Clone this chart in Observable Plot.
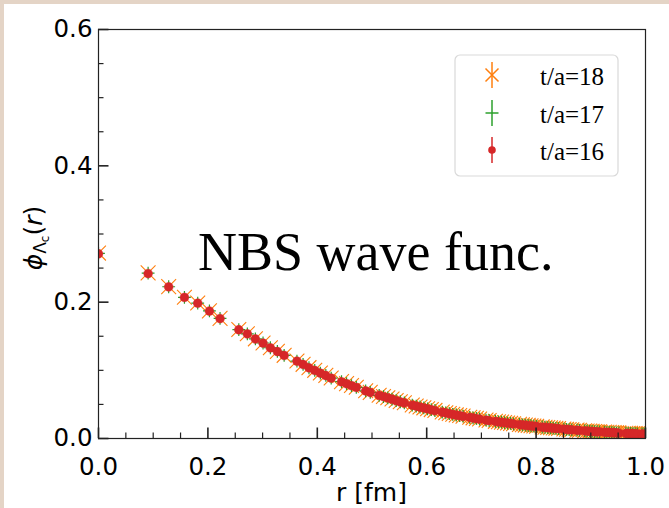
<!DOCTYPE html>
<html><head><meta charset="utf-8">
<script src="https://cdn.jsdelivr.net/npm/d3@7"></script>
<script src="https://cdn.jsdelivr.net/npm/@observablehq/plot@0.6"></script>
<style>
html,body{margin:0;padding:0;background:#e4d4c6;overflow:hidden;}
#chart{position:absolute;left:4px;top:4px;width:665px;height:504px;background:#fff;}
svg{display:block}
</style></head><body><div id="chart"></div>
<script>
// r [fm]
const r = [0,0.0907,0.1283,0.1571,0.1814,0.2028,0.2222,0.2565,0.2721,0.2868,0.3008,0.3142,0.3270,0.3394,0.3628,0.3740,0.3848,0.3953,0.4056,0.4156,0.4254,0.4443,0.4535,0.4625,0.4713,0.4884,0.4968,0.5131,0.5210,0.5289,0.5366,0.5442,0.5517,0.5591,0.5736,0.5808,0.5878,0.5948,0.6016,0.6084,0.6151,0.6284,0.6349,0.6413,0.6477,0.6540,0.6603,0.6665,0.6787,0.6848,0.6908,0.6967,0.7084,0.7142,0.7256,0.7312,0.7368,0.7424,0.7479,0.7534,0.7588,0.7696,0.7749,0.7802,0.7855,0.7907,0.7959,0.8010,0.8112,0.8163,0.8213,0.8263,0.8313,0.8362,0.8411,0.8508,0.8557,0.8604,0.8652,0.8747,0.8794,0.8887,0.8933,0.8979,0.9024,0.9070,0.9115,0.9160,0.9250,0.9294,0.9338,0.9382,0.9426,0.9469,0.9513,0.9641,0.9684,0.9726,0.9769,0.9811,0.9852,0.9936,0.9977,1.0018,1.0059,1.0141,1.0181];
const phi18 = [0.272,0.243,0.2228,0.2072,0.1988,0.1872,0.1762,0.1598,0.1537,0.1462,0.1402,0.1332,0.1278,0.1220,0.1136,0.1088,0.1039,0.1000,0.0960,0.0926,0.0887,0.0834,0.0805,0.0777,0.0752,0.0700,0.0677,0.0635,0.0616,0.0598,0.0580,0.0557,0.0540,0.0524,0.0492,0.0477,0.0463,0.0450,0.0437,0.0424,0.0412,0.0388,0.0377,0.0366,0.0356,0.0346,0.0337,0.0328,0.0311,0.0303,0.0295,0.0287,0.0272,0.0265,0.0252,0.0246,0.0240,0.0234,0.0228,0.0222,0.0217,0.0207,0.0202,0.0197,0.0192,0.0188,0.0183,0.0179,0.0170,0.0166,0.0162,0.0158,0.0154,0.0150,0.0146,0.0139,0.0135,0.0132,0.0129,0.0123,0.0120,0.0114,0.0111,0.0108,0.0105,0.0103,0.0100,0.0098,0.0094,0.0092,0.0090,0.0088,0.0086,0.0084,0.0082,0.0078,0.0076,0.0075,0.0073,0.0072,0.0070,0.0068,0.0067,0.0066,0.0065,0.0063,0.0062];
const phi17 = [0.2715,0.2425,0.2226,0.2071,0.1986,0.1871,0.1761,0.1596,0.1536,0.1461,0.1401,0.1331,0.1277,0.1219,0.1135,0.1087,0.1038,0.0999,0.0959,0.0925,0.0886,0.0833,0.0804,0.0776,0.0751,0.0699,0.0676,0.0634,0.0615,0.0597,0.0579,0.0556,0.0539,0.0523,0.0491,0.0476,0.0462,0.0449,0.0436,0.0423,0.0411,0.0387,0.0376,0.0365,0.0355,0.0345,0.0336,0.0327,0.0310,0.0302,0.0294,0.0286,0.0271,0.0264,0.0251,0.0245,0.0239,0.0233,0.0227,0.0221,0.0216,0.0206,0.0201,0.0196,0.0191,0.0187,0.0182,0.0178,0.0169,0.0165,0.0161,0.0157,0.0153,0.0149,0.0145,0.0138,0.0134,0.0131,0.0128,0.0122,0.0119,0.0113,0.0110,0.0107,0.0104,0.0102,0.0099,0.0097,0.0093,0.0091,0.0089,0.0087,0.0085,0.0083,0.0081,0.0077,0.0075,0.0074,0.0072,0.0071,0.0069,0.0067,0.0066,0.0065,0.0064,0.0062,0.0061];
const phi16 = [0.271,0.242,0.2225,0.207,0.1985,0.187,0.176,0.1595,0.1535,0.146,0.140,0.133,0.1276,0.1218,0.1134,0.1086,0.1037,0.0998,0.0958,0.0924,0.0885,0.0832,0.0803,0.0775,0.0750,0.0698,0.0675,0.0633,0.0614,0.0596,0.0578,0.0555,0.0538,0.0522,0.0490,0.0475,0.0461,0.0448,0.0435,0.0422,0.0410,0.0386,0.0375,0.0364,0.0354,0.0344,0.0335,0.0326,0.0309,0.0301,0.0293,0.0285,0.0270,0.0263,0.0250,0.0244,0.0238,0.0232,0.0226,0.0220,0.0215,0.0205,0.0200,0.0195,0.0190,0.0186,0.0181,0.0177,0.0168,0.0164,0.0160,0.0156,0.0152,0.0148,0.0144,0.0137,0.0133,0.0130,0.0127,0.0121,0.0118,0.0112,0.0109,0.0106,0.0103,0.0101,0.0098,0.0096,0.0092,0.0090,0.0088,0.0086,0.0084,0.0082,0.0080,0.0076,0.0074,0.0073,0.0071,0.0070,0.0068,0.0066,0.0065,0.0064,0.0063,0.0061,0.0060];

const seriesLabels = ["t/a=18", "t/a=17", "t/a=16"];
const seriesColors = ["#ff7f0e", "#2ca02c", "#d62728"];
const xMajor = [0, 0.2, 0.4, 0.6, 0.8, 1.0];
const xMinor = [0.05, 0.1, 0.15, 0.25, 0.3, 0.35, 0.45, 0.5, 0.55, 0.65, 0.7, 0.75, 0.85, 0.9, 0.95];
const yMajor = [0, 0.2, 0.4, 0.6];
const yMinor = [0.05, 0.1, 0.15, 0.25, 0.3, 0.35, 0.45, 0.5, 0.55];

const W = 665, H = 504, mL = 94, mR = 24, mT = 25, mB = 70;
const xPx = 1 / (W - mL - mR);          // data units per px (x)
const yPx = 0.6 / (H - mT - mB);        // data units per px (y)

const d18 = r.map((v, i) => ({r: v, phi: phi18[i]}));
const d17 = r.map((v, i) => ({r: v, phi: phi17[i]}));
const d16 = r.map((v, i) => ({r: v, phi: phi16[i]}));

const plot = Plot.plot({
  width: W, height: H,
  marginLeft: mL, marginRight: mR, marginTop: mT, marginBottom: mB,
  style: {fontFamily: "DejaVu Sans", background: "white", color: "black"},
  x: {domain: [0, 1]},
  y: {domain: [0, 0.6]},
  marks: [
    Plot.axisX(xMajor, {tickSize: 0, tickPadding: 19, fontSize: 24.5, tickFormat: d3.format(".1f"), label: null}),
    Plot.axisY(yMajor, {tickSize: 0, tickPadding: 6, fontSize: 24.5, tickFormat: d3.format(".1f"), label: null}),
    Plot.dot(d18, {x: "r", y: "phi", symbol: "times", r: 6.8, stroke: seriesColors[0], strokeWidth: 1.1, clip: true}),
    Plot.dot(d17, {x: "r", y: "phi", symbol: "plus", r: 4.2, stroke: seriesColors[1], strokeWidth: 1.2, clip: true}),
    Plot.dot(d16, {x: "r", y: "phi", symbol: "circle", r: 4.4, fill: seriesColors[2], stroke: seriesColors[2], strokeWidth: 0.5, clip: true}),
    Plot.ruleX(xMajor, {x: d => d, y1: 0, y2: 10.5 * yPx, stroke: "#222", strokeWidth: 1.6}),
    Plot.ruleX(xMinor, {x: d => d, y1: 0, y2: 5.5 * yPx, stroke: "#222", strokeWidth: 1.2}),
    Plot.ruleY(yMajor, {y: d => d, x1: 0, x2: 10.5 * xPx, stroke: "#222", strokeWidth: 1.6}),
    Plot.ruleY(yMinor, {y: d => d, x1: 0, x2: 5.5 * xPx, stroke: "#222", strokeWidth: 1.2}),
    Plot.frame({stroke: "#222", strokeWidth: 1.2})
  ]
});
document.getElementById("chart").appendChild(plot);

const svg = d3.select(plot);

// annotation
svg.append("text").attr("x", 194).attr("y", 266).attr("text-anchor", "start")
  .style("font-family", "Liberation Serif").style("font-size", "54px").attr("fill", "black")
  .text("NBS wave func.");

// axis titles
svg.append("text").attr("x", mL + (W - mL - mR) / 2).attr("y", 497).attr("text-anchor", "middle")
  .style("font-family", "DejaVu Sans").style("font-size", "25px").attr("fill", "black").text("r [fm]");

const yl = svg.append("text").attr("transform", "translate(38,234) rotate(-90)").attr("text-anchor", "middle")
  .style("font-family", "DejaVu Sans").style("font-size", "25px").attr("fill", "black");
yl.append("tspan").style("font-style", "italic").text("ϕ");
yl.append("tspan").attr("dy", 4).style("font-size", "17px").text("Λ");
yl.append("tspan").attr("dy", 3).style("font-size", "12px").text("c");
yl.append("tspan").attr("dy", -7).text("(");
yl.append("tspan").style("font-style", "italic").text("r");
yl.append("tspan").text(")");

// legend
const lg = svg.append("g");
lg.append("rect").attr("x", 451).attr("y", 51).attr("width", 163).attr("height", 121).attr("rx", 5)
  .attr("fill", "white").attr("fill-opacity", 0.85).attr("stroke", "#d9d9d9").attr("stroke-width", 1.2);
const ly = [71, 109, 146], lx = 488;
seriesLabels.forEach((lab, i) => {
  const g = lg.append("g").attr("transform", `translate(${lx},${ly[i]})`);
  const c = seriesColors[i];
  g.append("line").attr("x1", 0).attr("x2", 0).attr("y1", -13).attr("y2", 13).attr("stroke", c).attr("stroke-width", 1.5);
  if (i === 0) {
    g.append("path").attr("d", "M-6.5,-6.5L6.5,6.5M-6.5,6.5L6.5,-6.5").attr("stroke", c).attr("stroke-width", 1.5);
  } else if (i === 1) {
    g.append("path").attr("d", "M-6.5,0L6.5,0").attr("stroke", c).attr("stroke-width", 1.5);
  } else {
    g.append("circle").attr("r", 3.8).attr("fill", c);
  }
  lg.append("text").attr("x", 536).attr("y", ly[i] + 10).attr("text-anchor", "start")
    .style("font-family", "Liberation Serif").style("font-size", "25px").attr("fill", "black").text(lab);
});
</script></body></html>
